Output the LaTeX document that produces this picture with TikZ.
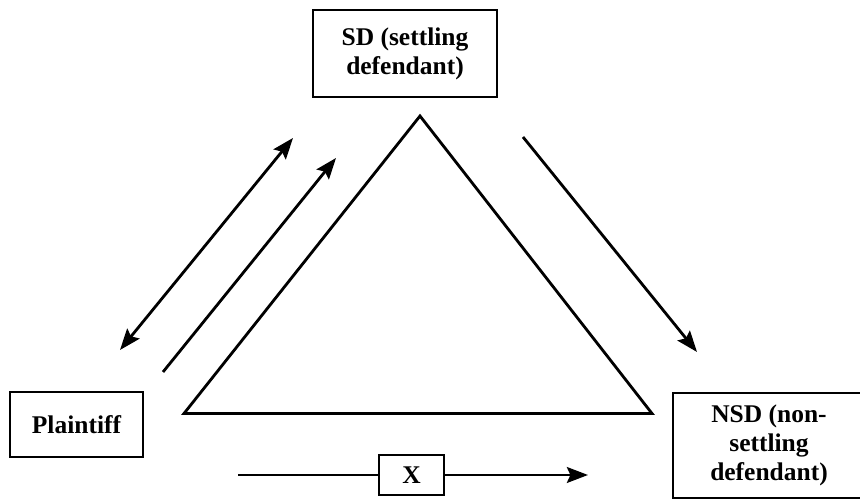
\documentclass[tikz,border=0pt]{standalone}
\usepackage{fontspec}
\setmainfont{Liberation Serif}
\usetikzlibrary{arrows.meta}

\begin{document}
\begin{tikzpicture}[
        party/.style={draw, line width=1.6pt, align=center, inner sep=0pt,
            font=\fontsize{14.5}{16.5}\selectfont\bfseries},
        link/.style={line width=1.6pt, -{Stealth[length=12pt,width=9pt,inset=2pt]}}
    ]
        \useasboundingbox (0,0) rectangle (17.2,10);

        % Parties
        \node[party, minimum width=3.68cm, minimum height=1.74cm] (sd) at (8.10,8.93) {SD (settling\\defendant)};
        \node[party, minimum width=2.66cm, minimum height=1.30cm] (plaintiff) at (1.53,1.51) {Plaintiff};
        \node[party, minimum width=3.84cm, minimum height=2.10cm] (nsd) at (15.38,1.09) {NSD (non-\\settling\\defendant)};

        % Triangle
        \draw[line width=1.6pt, line join=miter] (8.4,7.68) -- (3.68,1.73) -- (13.04,1.73) -- cycle;

        % Arrows between plaintiff and SD
        \coordinate (p1) at (2.40,3.00);
        \coordinate (s1) at (5.86,7.24);
        \coordinate (p2) at (3.26,2.56);
        \coordinate (s2) at (6.72,6.84);
        \draw[link, {Stealth[length=12pt,width=9pt,inset=2pt]}-{Stealth[length=12pt,width=9pt,inset=2pt]}] (p1) -- (s1);
        \draw[link] (p2) -- (s2);

        % Arrow from SD to NSD
        \coordinate (s3) at (10.46,7.26);
        \coordinate (n3) at (13.94,2.96);
        \draw[link] (s3) -- (n3);

        % Bottom arrow through X
        \node[party, minimum width=1.30cm, minimum height=0.80cm] (xbox) at (8.23,0.50) {X};
        \coordinate (xin) at (4.76,0.50);
        \coordinate (xout) at (11.76,0.50);
        \draw[line width=1.6pt] (xin) -- (xbox);
        \draw[link] (xbox) -- (xout);
    \end{tikzpicture}
\end{document}
